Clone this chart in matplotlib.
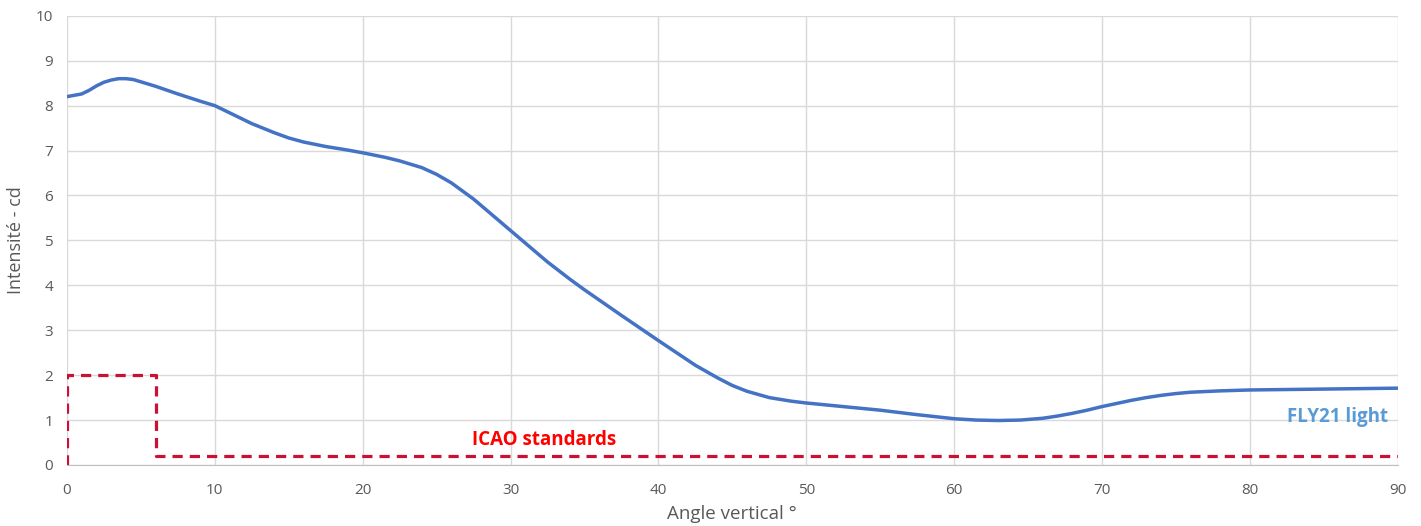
import numpy as np
import matplotlib.pyplot as plt

plt.rcParams['font.family'] = ['Open Sans', 'DejaVu Sans']

# FLY21 light curve
angle = [0, 1, 1.5, 2, 2.5, 3, 3.5, 4, 4.5, 5, 6, 7.5, 9, 10, 11, 12.5, 14, 15,
         16, 17.5, 19, 20, 21.5, 22.5, 24, 25, 26, 27.5, 28.5, 30, 31, 32.5, 34,
         35, 37.5, 40, 41.5, 42.5, 44, 45, 46, 47.5, 49, 50, 52.5, 55, 57.5, 60,
         61.5, 63, 64.5, 66, 67, 68, 69, 70, 71, 72, 73, 74, 75, 76, 78, 80, 85, 90]
intensity = [8.2, 8.26, 8.34, 8.44, 8.52, 8.57, 8.6, 8.6, 8.58, 8.53, 8.43, 8.26,
             8.1, 8.0, 7.84, 7.6, 7.4, 7.28, 7.19, 7.09, 7.01, 6.95, 6.85, 6.77,
             6.62, 6.47, 6.28, 5.92, 5.64, 5.22, 4.94, 4.52, 4.14, 3.9, 3.33, 2.77,
             2.44, 2.22, 1.94, 1.77, 1.64, 1.5, 1.42, 1.38, 1.3, 1.22, 1.12, 1.03,
             1.0, 0.99, 1.0, 1.04, 1.09, 1.15, 1.22, 1.3, 1.37, 1.44, 1.5, 1.55,
             1.59, 1.62, 1.65, 1.67, 1.69, 1.71]

# ICAO minimum
icao_x = [0, 0, 6, 6, 90]
icao_y = [0, 2, 2, 0.2, 0.2]

xticks = list(range(0, 91, 10))
yticks = list(range(0, 11))

fig = plt.figure(figsize=(14.21, 5.26), dpi=100)
ax = fig.add_axes([0.0471, 0.116, 0.9365, 0.854])

ax.plot(icao_x, icao_y, '--', color='#CC1035', linewidth=2.3, dashes=(3.2, 2.2), zorder=3)
ax.plot(angle, intensity, color='#4472C4', linewidth=2.5, zorder=4,
        solid_joinstyle='round', solid_capstyle='round')

ax.text(32.3, 0.55, 'ICAO standards', color='#FF0000', fontsize=13.5,
        fontweight='bold', ha='center', va='center')
ax.text(85.9, 1.07, 'FLY21 light', color='#5B9BD5', fontsize=13.5,
        fontweight='bold', ha='center', va='center')

ax.set_xlim(0, 90)
ax.set_ylim(0, 10)
ax.set_xticks(xticks)
ax.set_yticks(yticks)
ax.grid(True, color='#D9D9D9', linewidth=1)
ax.set_axisbelow(True)
for s in ['top', 'right', 'left']:
    ax.spines[s].set_visible(False)
ax.spines['bottom'].set_color('#BFBFBF')
ax.tick_params(length=0, labelsize=11, labelcolor='#595959')
ax.tick_params(axis='x', pad=13)
ax.tick_params(axis='y', pad=10)
ax.set_xlabel('Angle vertical °', fontsize=13.5, color='#595959', labelpad=5)
ax.set_ylabel('Intensité - cd', fontsize=13, color='#595959', labelpad=8)

plt.savefig('out.png', dpi=100)
